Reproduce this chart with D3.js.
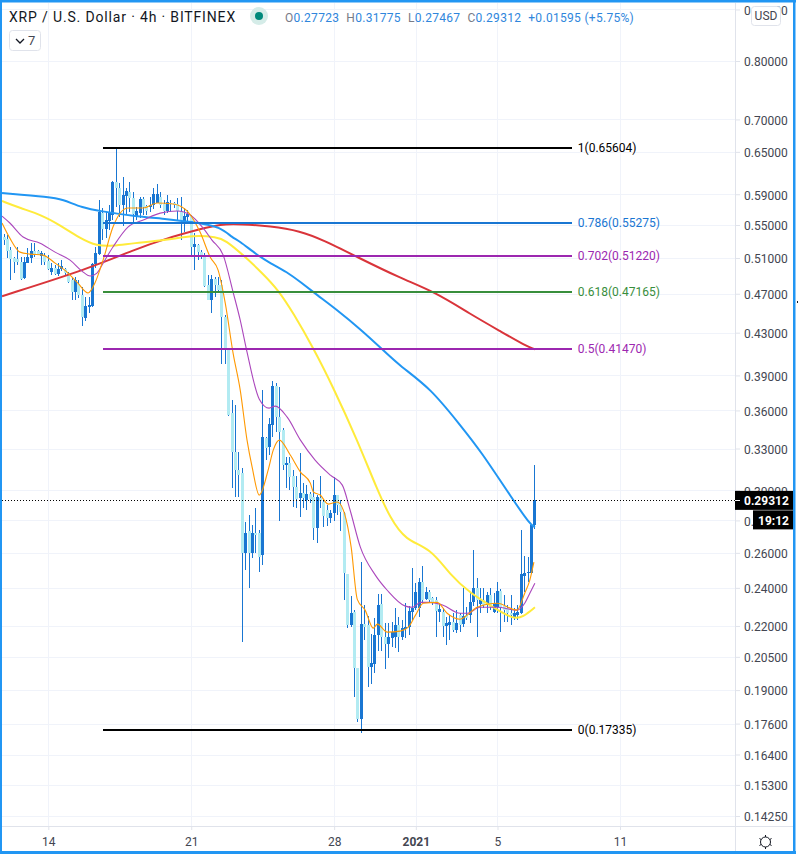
<!DOCTYPE html>
<html>
<head>
<meta charset="utf-8">
<title>XRP / U.S. Dollar</title>
<script src="https://cdn.jsdelivr.net/npm/d3@7"></script>
<style>
  html, body { margin: 0; padding: 0; background: #fff; }
  svg { display: block; }
  text { font-family: Roboto, "Noto Sans", sans-serif; }
</style>
</head>
<body>
<div id="chart"></div>
<script>
// 4h candles, first one at firstBar, one row of values per ten candles
const firstBar = new Date(2020, 11, 11, 20);
const hoursPerBar = 4;

const opens = [
  .5351, .5326, .5193, .5099, .5084, .5056, .4868, .5045, .5099, .5181,
  .5181, .5123, .5134, .5068, .4942, .4981, .4916, .4969, .4969, .4924,
  .4849, .4722, .4805, .4686, .4449, .4563, .4573, .5030, .5146, .5656,
  .5445, .5553, .5626, .6070, .5980, .5756, .5876, .5934, .5845, .5613,
  .5656, .5831, .5744, .5734, .5756, .5779, .5858, .5770, .5682, .5779,
  .5779, .5770, .5682, .5553, .5597, .5613, .5232, .5253, .5173, .5134,
  .4795, .4633, .4857, .4795, .4795, .4456, .4141, .3578, .3273, .3141,
  .3120, .2598, .2732, .2598, .2719, .2719, .2586, .3379, .3311, .3482,
  .3807, .3545, .3441, .3177, .3192, .3098, .3022, .2946, .2981, .2933,
  .2974, .2953, .2751, .2946, .2920, .2866, .2815, .2847, .2967, .2900,
  .2847, .2477, .2204, .2270, .1997, .1777, .2209, .2204, .2002, .2016,
  .2154, .2312, .2144, .2110, .2139, .2144, .2204, .2144, .2184, .2194,
  .2270, .2291, .2291, .2432, .2338, .2376, .2343, .2333, .2270, .2270,
  .2199, .2204, .2219, .2179, .2255, .2209, .2255, .2255, .2322, .2398,
  .2312, .2333, .2307, .2360, .2270, .2296, .2382, .2302, .2291, .2265,
  .2245, .2255, .2265, .2465, .2483, .2483, .27723,
];
const highs = [
  .5383, .5375, .5232, .5115, .5232, .5108, .5115, .5213, .5272, .5272,
  .5193, .5181, .5154, .5134, .5038, .5019, .5038, .5076, .4981, .4942,
  .4868, .4886, .4849, .4776, .4668, .4668, .5038, .5232, .5822, .5713,
  .5669, .5756, .6080, .65604, .6048, .6140, .5980, .6070, .5934, .5734,
  .5858, .5866, .5756, .5866, .5980, .6035, .5934, .5822, .5889, .5822,
  .5800, .5845, .5858, .5713, .5691, .5626, .5395, .5264, .5193, .5154,
  .4905, .4905, .4886, .4886, .4849, .4477, .4151, .3686, .3645, .3273,
  .3155, .2789, .2834, .2770, .2880, .2738, .3771, .3387, .3538, .3851,
  .3833, .3797, .3457, .3237, .3237, .3141, .3098, .3266, .3049, .3035,
  .2988, .3070, .2967, .3098, .2933, .2900, .2866, .3092, .2970, .2933,
  .2853, .2477, .2354, .2281, .1997, .2545, .2307, .2250, .2159, .2240,
  .2366, .2366, .2214, .2214, .2219, .2291, .2245, .2229, .2317, .2302,
  .2510, .2426, .2454, .2521, .2404, .2387, .2349, .2349, .2317, .2291,
  .2245, .2255, .2265, .2281, .2265, .2398, .2296, .2371, .2616, .2454,
  .2398, .2398, .2376, .2398, .2371, .2432, .2393, .2360, .2307, .2360,
  .2291, .2307, .2738, .2580, .2575, .2770, .31775,
];
const lows = [
  .5253, .5099, .4849, .4924, .5019, .4849, .4857, .5038, .5045, .5115,
  .5134, .5019, .5019, .4961, .4905, .4905, .4894, .4953, .4905, .4813,
  .4633, .4633, .4651, .4368, .4415, .4494, .4563, .4981, .5134, .5313,
  .5334, .5436, .5562, .5734, .5604, .5486, .5626, .5669, .5541, .5562,
  .5584, .5626, .5626, .5669, .5700, .5779, .5713, .5626, .5656, .5669,
  .5713, .5562, .5313, .5415, .5521, .5134, .4961, .5076, .5084, .4776,
  .4633, .4494, .4668, .4705, .4002, .4002, .3553, .3015, .2953, .2953,
  .2119, .2499, .2398, .2568, .2598, .2488, .2528, .3214, .3251, .3387,
  .3426, .2795, .3141, .3015, .3001, .2886, .2880, .2821, .2880, .2866,
  .2913, .2676, .2658, .2880, .2757, .2764, .2783, .2795, .2834, .2732,
  .2333, .2189, .2194, .1869, .1765, .1722, .2129, .1912, .1925, .1975,
  .2076, .2076, .1993, .2043, .2095, .2090, .2072, .2129, .2139, .2154,
  .2229, .2281, .2245, .2322, .2333, .2317, .2307, .2144, .2219, .2144,
  .2105, .2129, .2169, .2164, .2169, .2194, .2229, .2214, .2302, .2144,
  .2265, .2291, .2265, .2281, .2265, .2265, .2169, .2219, .2219, .2204,
  .2229, .2229, .2260, .2376, .2432, .2477, .27467,
];
const closes = [
  .5313, .5185, .5084, .5056, .5056, .4857, .5056, .5115, .5181, .5134,
  .5134, .5154, .5056, .4969, .4981, .4916, .4973, .5007, .4924, .4831,
  .4722, .4849, .4686, .4459, .4570, .4583, .5030, .5154, .5669, .5445,
  .5562, .5649, .6070, .5980, .5756, .5889, .5944, .5845, .5639, .5678,
  .5831, .5734, .5682, .5756, .5899, .5903, .5756, .5682, .5800, .5770,
  .5756, .5682, .5562, .5613, .5639, .5232, .5264, .5173, .5134, .4783,
  .4633, .4857, .4795, .4740, .4456, .4141, .3561, .3273, .3141, .3105,
  .2598, .2719, .2598, .2719, .2707, .2575, .3387, .3303, .3490, .3807,
  .3545, .3426, .3177, .3192, .3092, .3022, .2940, .2981, .2946, .2974,
  .2940, .2751, .2953, .2926, .2827, .2815, .2847, .2967, .2900, .2853,
  .2483, .2204, .2265, .1997, .1777, .2209, .2194, .2002, .2020, .2154,
  .2307, .2144, .2110, .2144, .2169, .2204, .2144, .2189, .2194, .2276,
  .2291, .2376, .2432, .2333, .2376, .2333, .2317, .2276, .2286, .2199,
  .2214, .2219, .2179, .2214, .2204, .2250, .2240, .2322, .2398, .2333,
  .2333, .2307, .2360, .2296, .2317, .2382, .2296, .2281, .2265, .2255,
  .2265, .2270, .2477, .2483, .2488, .2770, .29312,
];

const blueBars = [-0.6, 13.5, 17, 23.2, 28.2, 37.9, 47.9, 57.6, 63.5, 67.3, 68.8, 74.4, 78.2, 83.2, 87.1, 92, 97.9, 104.7, 111.4, 116.4, 125.3, 134, 139.9, 149.6, 154.5, 156];
const blueValues = [.5917, .5863, .5835, .5717, .5678, .5613, .5575, .5525, .5474, .5337, .5313, .5134, .5041, .4939, .4827, .4686, .4528, .4335, .4132, .3983, .3788, .3482, .3288, .2933, .2777, .2757];

const yellowBars = [-0.6, 4.7, 11.1, 16.4, 22.3, 27.3, 32, 37.9, 47.9, 55.6, 62.6, 65, 70.3, 75.9, 80.6, 85, 90.9, 96.7, 103.8, 109.7, 113.5, 117.9, 125.3, 131.1, 137, 143.7, 149.6, 152.5, 156];
const yellowValues = [.5809, .5717, .5626, .5499, .5337, .5242, .5242, .5276, .5313, .5375, .5350, .5313, .5134, .4927, .4740, .4497, .4151, .3797, .3364, .3001, .2815, .2676, .2628, .2471, .2371, .2296, .2234, .2245, .2296];

const redBars = [-0.6, 25.3, 37.9, 47.9, 57.6, 63.5, 69.4, 78.2, 87.1, 93.8, 103.8, 116.4, 126.7, 137, 145.8, 154.5, 156];
const redValues = [.4674, .4983, .5193, .5337, .5448, .5511, .5511, .5486, .5424, .5313, .5111, .4871, .4718, .4487, .4315, .4151, .4141];

const purpleBars = [-0.6, 1.7, 5.6, 10.6, 15, 19.4, 22.9, 25.3, 27.3, 29.1, 32, 36.4, 40.9, 45.9, 50.9, 54.7, 58.5, 61.1, 64.4, 67.3, 69.4, 71.4, 75, 77.9, 79.7, 83.2, 87.1, 91.4, 95.9, 99.4, 101.7, 104.7, 109.1, 112.6, 117.9, 120, 122.4, 125.3, 129, 134, 136.1, 139.9, 144.9, 150.7, 153, 154.5, 156];
const purpleValues = [.5613, .5525, .5350, .5276, .5169, .5076, .4950, .4894, .4927, .5041, .5230, .5474, .5562, .5651, .5678, .5626, .5461, .5313, .5134, .4718, .4425, .4114, .3694, .3619, .3636, .3545, .3364, .3214, .3105, .3035, .2866, .2634, .2471, .2387, .2302, .2296, .2322, .2322, .2307, .2265, .2265, .2296, .2296, .2281, .2317, .2371, .2426];

const orangeBars = [-0.6, 1.7, 4.7, 7.6, 11.4, 15, 18.5, 21.7, 24.7, 26.7, 29.1, 32, 36.4, 40.9, 45, 49.7, 54.1, 57.6, 60.6, 62.9, 65, 67.3, 69.4, 71.4, 72.9, 75, 77.6, 79.1, 80.9, 84.1, 87.1, 90, 90.9, 92.9, 95.3, 97.9, 100, 102, 103.8, 106.1, 108.5, 109.7, 112.6, 116.4, 118.8, 120.9, 123.2, 127.3, 130.2, 134, 136.1, 139, 144.9, 150.7, 153, 154.5, 155.7];
const orangeValues = [.5525, .5337, .5169, .5146, .5134, .5041, .4939, .4816, .4708, .4816, .5076, .5474, .5717, .5717, .5783, .5770, .5665, .5411, .5108, .4961, .4601, .4103, .3771, .3364, .3163, .2967, .3141, .3288, .3364, .3251, .3127, .3049, .2988, .2967, .2906, .2920, .2847, .2634, .2338, .2281, .2189, .2209, .2169, .2174, .2194, .2255, .2317, .2322, .2265, .2234, .2255, .2296, .2317, .2281, .2371, .2443, .2545];

// fib retracement
const fibLevels = ['1', '0.786', '0.702', '0.618', '0.5', '0'];
const fibPrices = [0.65604, 0.55275, 0.5122, 0.47165, 0.4147, 0.17335];
const fibPriceLabels = ['0.65604', '0.55275', '0.51220', '0.47165', '0.41470', '0.17335'];
const fibColors = ['#000000', '#1976d2', '#9c27b0', '#388e3c', '#9c27b0', '#000000'];
const fibStartBar = 29;
const fibEndBar = 167;

// axes
const priceTicks = [0.9, 0.8, 0.7, 0.65, 0.59, 0.55, 0.51, 0.47, 0.43, 0.39, 0.36, 0.33, 0.3, 0.28, 0.26, 0.24, 0.22, 0.205, 0.19, 0.176, 0.164, 0.153, 0.1425];
const dateTicks = [new Date(2020, 11, 14), new Date(2020, 11, 21), new Date(2020, 11, 28), new Date(2021, 0, 1), new Date(2021, 0, 5), new Date(2021, 0, 11)];
const dateLabels = ['14', '21', '28', '2021', '5', '11'];

const lastPrice = 0.29312;
const legendLabels = ['O', 'H', 'L', 'C'];
const legendValues = ['0.27723', '0.31775', '0.27467', '0.29312'];

const width = 798;
const height = 854;
const plot = { left: 2, right: 735, top: 3, bottom: 826 };
const upColor = '#1976d2';
const downColor = '#b2ebf2';
const gridColor = '#f0f3fa';
const axisColor = '#e0e3eb';
const textColor = '#434651';

const svg = d3.select('#chart').append('svg').attr('width', width).attr('height', height);

const barTime = (i) => new Date(firstBar.getTime() + i * hoursPerBar * 3600 * 1000);

const xScale = d3.scaleTime()
  .domain([new Date(2020, 11, 14), new Date(2021, 0, 11)])
  .range([48.3, 620]);
const yScale = d3.scaleLog().domain([0.8, 0.1425]).range([61, 816]);

const xAt = (i) => xScale(barTime(i));

svg.append('clipPath').attr('id', 'plot-clip').append('rect')
  .attr('x', plot.left).attr('y', plot.top)
  .attr('width', plot.right - plot.left).attr('height', plot.bottom - plot.top);

// grid
const grid = svg.append('g').attr('stroke', gridColor).attr('stroke-width', 1);
grid.selectAll('.h').data(priceTicks).join('line')
  .attr('x1', plot.left).attr('x2', plot.right)
  .attr('y1', (d) => Math.round(yScale(d)) + 0.5).attr('y2', (d) => Math.round(yScale(d)) + 0.5);
grid.selectAll('.v').data(dateTicks).join('line')
  .attr('y1', plot.top).attr('y2', plot.bottom)
  .attr('x1', (d) => Math.round(xScale(d)) + 0.5).attr('x2', (d) => Math.round(xScale(d)) + 0.5);

// candles
const candles = svg.append('g').attr('clip-path', 'url(#plot-clip)').attr('shape-rendering', 'crispEdges');
const rows = d3.range(opens.length);
candles.selectAll('.wick').data(rows).join('line')
  .attr('class', 'wick')
  .attr('x1', (i) => Math.floor(xAt(i)) + 0.5).attr('x2', (i) => Math.floor(xAt(i)) + 0.5)
  .attr('y1', (i) => yScale(highs[i])).attr('y2', (i) => yScale(lows[i]))
  .attr('stroke', upColor);
candles.selectAll('.body').data(rows).join('rect')
  .attr('class', 'body')
  .attr('x', (i) => Math.floor(xAt(i)) - 1)
  .attr('width', 3)
  .attr('y', (i) => yScale(Math.max(opens[i], closes[i])))
  .attr('height', (i) => Math.max(1, Math.abs(yScale(opens[i]) - yScale(closes[i]))))
  .attr('fill', (i) => (closes[i] >= opens[i] ? upColor : downColor));

// moving averages
const averages = [
  { bars: redBars, values: redValues, color: '#d9343a', width: 2, curve: d3.curveBasis },
  { bars: blueBars, values: blueValues, color: '#2196f3', width: 2, curve: d3.curveBasis },
  { bars: yellowBars, values: yellowValues, color: '#ffeb3b', width: 2, curve: d3.curveBasis },
  { bars: purpleBars, values: purpleValues, color: '#ab47bc', width: 1.1, curve: d3.curveMonotoneX },
  { bars: orangeBars, values: orangeValues, color: '#ff9800', width: 1.1, curve: d3.curveMonotoneX },
];
svg.append('g').attr('clip-path', 'url(#plot-clip)').selectAll('path').data(averages).join('path')
  .attr('fill', 'none')
  .attr('stroke', (d) => d.color)
  .attr('stroke-width', (d) => d.width)
  .attr('d', (d) => d3.line().curve(d.curve)(d.bars.map((b, k) => [xAt(b), yScale(d.values[k])])));

// fib levels
const fib = svg.append('g');
fib.selectAll('line').data(fibPrices).join('line')
  .attr('x1', xAt(fibStartBar)).attr('x2', xAt(fibEndBar))
  .attr('y1', (d) => Math.round(yScale(d))).attr('y2', (d) => Math.round(yScale(d)))
  .attr('stroke', (d, i) => fibColors[i])
  .attr('stroke-width', 2)
  .attr('shape-rendering', 'crispEdges');
fib.selectAll('text').data(fibPrices).join('text')
  .attr('x', xAt(fibEndBar) + 5.5)
  .attr('y', (d) => yScale(d) + 4)
  .attr('font-size', 12)
  .attr('fill', (d, i) => fibColors[i])
  .text((d, i) => fibLevels[i] + '(' + fibPriceLabels[i] + ')');

// last price line
svg.append('line')
  .attr('x1', plot.left).attr('x2', plot.right)
  .attr('y1', Math.round(yScale(lastPrice)) + 0.5).attr('y2', Math.round(yScale(lastPrice)) + 0.5)
  .attr('stroke', '#000').attr('stroke-dasharray', '1 2');

// price axis
const yAxis = d3.axisRight(yScale)
  .tickValues(priceTicks)
  .tickFormat(d3.format('.5f'))
  .tickSize(5)
  .tickPadding(4);
const yAxisGroup = svg.append('g')
  .attr('transform', 'translate(' + plot.right + ',0)')
  .call(yAxis);
yAxisGroup.select('.domain').remove();
yAxisGroup.selectAll('.tick line').attr('stroke', axisColor);
yAxisGroup.selectAll('.tick text').attr('fill', textColor).attr('font-size', 12).attr('y', 1).style('font-family', 'Roboto');
svg.append('line').attr('x1', plot.right + 0.5).attr('x2', plot.right + 0.5).attr('y1', plot.top).attr('y2', 851).attr('stroke', axisColor);

// time axis
const xAxis = d3.axisBottom(xScale)
  .tickValues(dateTicks)
  .tickFormat((d, i) => dateLabels[i])
  .tickSize(4)
  .tickPadding(7);
const xAxisGroup = svg.append('g')
  .attr('transform', 'translate(0,' + plot.bottom + ')')
  .call(xAxis);
xAxisGroup.select('.domain').remove();
xAxisGroup.selectAll('.tick line').attr('stroke', axisColor);
xAxisGroup.selectAll('.tick text').attr('fill', textColor).attr('font-size', 12).style('font-family', 'Roboto');
xAxisGroup.selectAll('.tick text').filter((d, i) => dateLabels[i] === '2021').attr('font-weight', 'bold');
svg.append('line').attr('x1', plot.left).attr('x2', 793).attr('y1', plot.bottom + 0.5).attr('y2', plot.bottom + 0.5).attr('stroke', axisColor);

// last price tag and countdown
const lastY = yScale(lastPrice);
svg.append('rect').attr('x', plot.right).attr('y', lastY - 9.5).attr('width', 58).attr('height', 19).attr('fill', '#000');
svg.append('line').attr('x1', plot.right).attr('x2', plot.right + 5).attr('y1', Math.round(lastY) + 0.5).attr('y2', Math.round(lastY) + 0.5).attr('stroke', '#fff');
svg.append('text').attr('x', 744).attr('y', lastY + 4.5).attr('fill', '#fff').attr('font-size', 12).attr('font-weight', 'bold').text('0.29312');
svg.append('rect').attr('x', 753).attr('y', lastY + 10).attr('width', 40).attr('height', 19).attr('fill', '#000');
svg.append('text').attr('x', 758).attr('y', lastY + 24.5).attr('fill', '#fff').attr('font-size', 12).attr('font-weight', 'bold').text('19:12');

// USD button
svg.append('rect').attr('x', 751.5).attr('y', 6.5).attr('width', 29).attr('height', 19).attr('rx', 3)
  .attr('fill', '#fff').attr('stroke', axisColor);
svg.append('text').attr('x', 766).attr('y', 20).attr('text-anchor', 'middle').attr('fill', textColor).attr('font-size', 12).text('USD');

// header
svg.append('text').attr('x', 9).attr('y', 22).attr('font-size', 14).attr('fill', '#131722')
  .style('letter-spacing', '0.84px')
  .text('XRP / U.S. Dollar · 4h · BITFINEX');
svg.append('circle').attr('cx', 259).attr('cy', 16).attr('r', 9).attr('fill', '#d5ece8');
svg.append('circle').attr('cx', 259).attr('cy', 16).attr('r', 4).attr('fill', '#00897b');

const legend = svg.append('text').attr('x', 285).attr('y', 22).attr('font-size', 12).style('letter-spacing', '0.3px');
legendLabels.forEach((label, i) => {
  legend.append('tspan').attr('fill', '#787b86').attr('dx', i ? 7 : 0).text(label);
  legend.append('tspan').attr('fill', '#2f86dc').text(legendValues[i]);
});
legend.append('tspan').attr('fill', '#2f86dc').attr('dx', 7).text('+0.01595 (+5.75%)');

// collapsed indicators button
svg.append('rect').attr('x', 9.5).attr('y', 30.5).attr('width', 31).attr('height', 20).attr('rx', 3)
  .attr('fill', '#fff').attr('stroke', axisColor);
svg.append('path').attr('d', d3.line()([[16, 39], [20, 43], [24, 39]])).attr('fill', 'none').attr('stroke', '#131722').attr('stroke-width', 1.3);
svg.append('text').attr('x', 28).attr('y', 45).attr('font-size', 13).attr('fill', textColor).text('7');

// settings icon
const sun = svg.append('g').attr('transform', 'translate(765.5,842)').attr('stroke', '#131722').attr('fill', 'none');
sun.append('circle').attr('r', 5);
sun.selectAll('line').data(d3.range(6)).join('line')
  .attr('x1', (d) => 5 * Math.cos(d * Math.PI / 3 + Math.PI / 6)).attr('y1', (d) => 5 * Math.sin(d * Math.PI / 3 + Math.PI / 6))
  .attr('x2', (d) => 7 * Math.cos(d * Math.PI / 3 + Math.PI / 6)).attr('y2', (d) => 7 * Math.sin(d * Math.PI / 3 + Math.PI / 6));

// window frame
const frame = svg.append('g').attr('fill', '#2196f3');
frame.append('rect').attr('x', 0).attr('y', 0).attr('width', 796).attr('height', 2.5);
frame.append('rect').attr('x', 0).attr('y', 0).attr('width', 2).attr('height', 854);
frame.append('rect').attr('x', 793).attr('y', 0).attr('width', 2.5).attr('height', 854);
frame.append('rect').attr('x', 0).attr('y', 851).attr('width', 796).attr('height', 3);
svg.append('rect').attr('x', 797).attr('y', 301).attr('width', 1).attr('height', 2).attr('fill', '#131722');
</script>
</body>
</html>
